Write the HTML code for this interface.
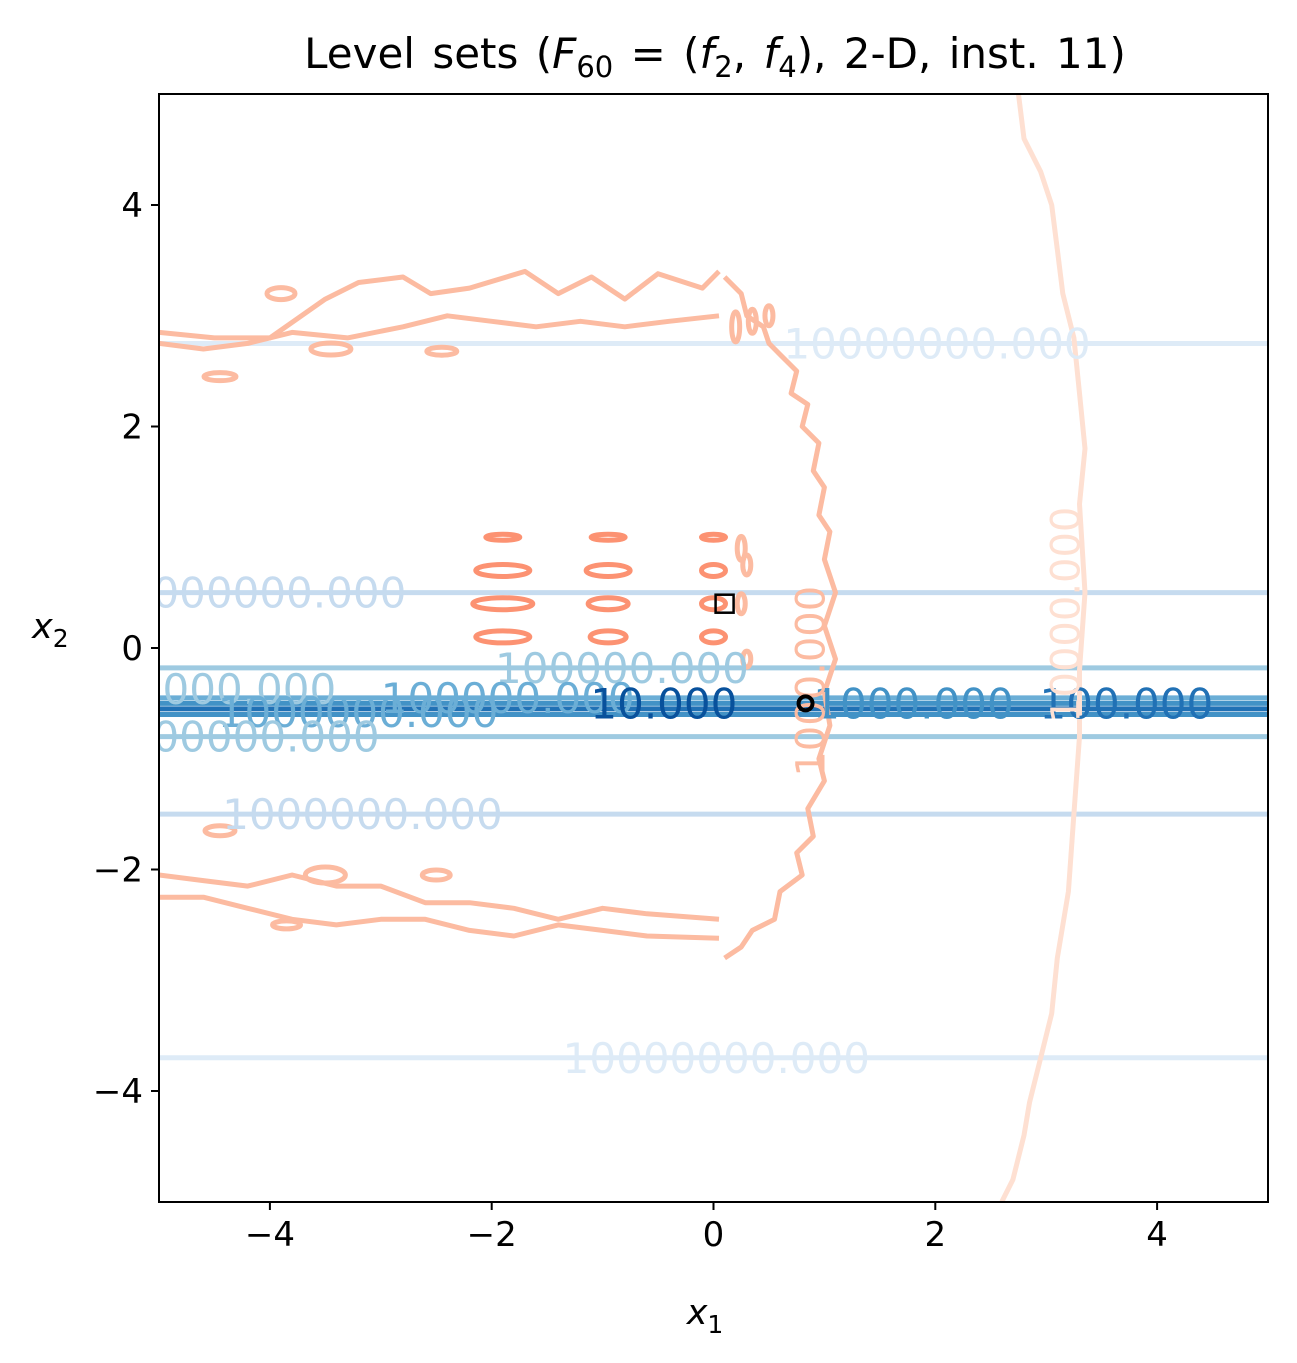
<!DOCTYPE html>
<html><head><meta charset="utf-8"><style>
body{margin:0;background:#fff;}
svg{display:block;font-family:"DejaVu Sans","Liberation Sans",sans-serif;}
</style></head><body>
<svg id="c" width="1297" height="1363" viewBox="0 0 1297 1363">
<rect width="1297" height="1363" fill="#fff"/>
<g id="plot"></g>
<rect x="159" y="94" width="1109" height="1108" fill="none" stroke="#000" stroke-width="2"/>
<g id="ticks"></g>
<text x="715" y="68" font-size="42" text-anchor="middle" word-spacing="4">Level sets (<tspan font-style="italic">F</tspan><tspan font-size="29" dy="9">60</tspan><tspan dy="-9"> = (</tspan><tspan font-style="italic">f</tspan><tspan font-size="29" dy="9">2</tspan><tspan dy="-9">, </tspan><tspan font-style="italic">f</tspan><tspan font-size="29" dy="9">4</tspan><tspan dy="-9">), 2-D, inst. 11)</tspan></text>
<text x="705" y="1324" font-size="35" font-style="italic" text-anchor="middle">x<tspan font-size="25" dy="9" font-style="normal">1</tspan></text>
<text x="32" y="638" font-size="35" font-style="italic">x<tspan font-size="25" dy="9" font-style="normal">2</tspan></text>
</svg>
<script>
const xTicks=[-4,-2,0,2,4];
const yTicks=[-4,-2,0,2,4];
const blueLevels=[2.75,0.5,-0.18,-0.45,-0.5,-0.55,-0.6,-0.8,-1.5,-3.7];
const blueShades=["#deebf7","#c6dbef","#9ecae1","#6baed6","#4292c6","#2171b5","#4292c6","#9ecae1","#c6dbef","#deebf7"];
const blueLabels=[["10000000.000",0.63,2.75],["1000000.000",-5.3,0.5],["100000.000",-1.97,-0.18],["10000.000",-5.45,-0.37],["100000.000",-3.0,-0.45],["1000000.000",-4.47,-0.58],["100000.000",-5.3,-0.8],["1000000.000",-4.43,-1.5],["10000000.000",-1.36,-3.7],["10.000",-1.11,-0.5],["1000.000",0.9,-0.5],["100.000",2.94,-0.5]];
const labelShades=["#deebf7","#c6dbef","#9ecae1","#9ecae1","#6baed6","#6baed6","#9ecae1","#c6dbef","#deebf7","#08519c","#4292c6","#2171b5"];
const ellipseX=[-1.9,-0.95,0.0];
const ellipseY=[1.0,0.7,0.4,0.1];
const upperTop=[[-5,2.85],[-4.5,2.8],[-4,2.8],[-3.5,3.15],[-3.2,3.3],[-2.8,3.35],[-2.55,3.2],[-2.2,3.25],[-1.7,3.4],[-1.4,3.2],[-1.1,3.35],[-0.8,3.15],[-0.5,3.38],[-0.1,3.25],[0.05,3.4]];
const upperBot=[[-5,2.75],[-4.6,2.7],[-4.2,2.75],[-3.8,2.85],[-3.3,2.8],[-2.8,2.9],[-2.4,3.0],[-2.0,2.95],[-1.6,2.9],[-1.2,2.95],[-0.8,2.9],[-0.4,2.95],[0.05,3.0]];
const lowerTop=[[-5,-2.05],[-4.6,-2.1],[-4.2,-2.15],[-3.8,-2.05],[-3.4,-2.15],[-3.0,-2.15],[-2.6,-2.3],[-2.2,-2.3],[-1.8,-2.35],[-1.4,-2.45],[-1.0,-2.35],[-0.6,-2.4],[0.05,-2.45]];
const lowerBot=[[-5,-2.25],[-4.6,-2.25],[-4.2,-2.35],[-3.8,-2.45],[-3.4,-2.5],[-3.0,-2.45],[-2.6,-2.45],[-2.2,-2.55],[-1.8,-2.6],[-1.4,-2.5],[-1.0,-2.55],[-0.6,-2.6],[0.05,-2.62]];
const rightArc=[[0.1,3.35],[0.25,3.2],[0.3,3.0],[0.45,2.9],[0.5,2.75],[0.6,2.65],[0.75,2.5],[0.7,2.3],[0.85,2.2],[0.8,2.0],[0.95,1.85],[0.9,1.6],[1.0,1.45],[0.95,1.2],[1.05,1.05],[1.0,0.8],[1.1,0.5],[1.0,0.2],[1.1,-0.1],[1.0,-0.4],[1.05,-0.7],[0.95,-1.0],[1.0,-1.2],[0.85,-1.45],[0.9,-1.7],[0.75,-1.85],[0.8,-2.05],[0.6,-2.2],[0.55,-2.45],[0.35,-2.55],[0.25,-2.7],[0.1,-2.8]];
const farRight=[[2.75,5],[2.8,4.6],[2.95,4.3],[3.05,4.0],[3.1,3.6],[3.15,3.2],[3.25,2.8],[3.3,2.3],[3.35,1.8],[3.3,1.3],[3.35,0.5],[3.3,-0.2],[3.3,-0.8],[3.25,-1.5],[3.2,-2.2],[3.1,-2.8],[3.05,-3.3],[2.95,-3.7],[2.85,-4.1],[2.8,-4.4],[2.7,-4.8],[2.6,-5]];
const smallLoops=[[-3.9,3.2,14,6],[-4.45,2.45,16,4],[-2.45,2.68,15,4],[-3.45,2.7,20,6],[-4.45,-1.65,15,5],[-3.5,-2.05,20,8],[-2.5,-2.05,14,5],[-3.85,-2.5,14,4],[0.25,0.9,4,12],[0.3,0.75,4,10],[0.25,0.4,4,10],[0.3,-0.1,4,8],[0.2,2.9,4,15],[0.35,2.95,4,12],[0.5,3.0,4,10]];

const X=v=>713.5+v*110.9, Y=v=>648-v*110.75;
const NS="http://www.w3.org/2000/svg";
const plot=document.getElementById('plot'), tk=document.getElementById('ticks');
function mk(t,a,p){const e=document.createElementNS(NS,t);for(const k in a)e.setAttribute(k,a[k]);(p||plot).appendChild(e);return e;}
const cp=mk('clipPath',{id:'cl'});mk('rect',{x:159,y:94,width:1109,height:1108},cp);
plot.setAttribute('clip-path','url(#cl)');
blueLevels.forEach((v,i)=>{const l=mk('line',{x1:159,x2:1268,y1:Y(v),y2:Y(v),stroke:blueShades[i],'stroke-width':5});

});
function path(pts,col,w,name){const d=pts.map((p,i)=>(i?'L':'M')+X(p[0]).toFixed(1)+','+Y(p[1]).toFixed(1)).join('');
const e=mk('path',{d:d,fill:'none',stroke:col,'stroke-width':w,'stroke-linejoin':'round'});

}
path(upperTop,'#fcbba1',5,'red-contour-upper');
path(upperBot,'#fcbba1',5,'red-contour-upper');
path(lowerTop,'#fcbba1',5,'red-contour-lower');
path(lowerBot,'#fcbba1',5,'red-contour-lower');
path(rightArc,'#fcbba1',5,'red-contour-arc');
path(farRight,'#fee0d2',5,'red-contour-far');
smallLoops.forEach(s=>{const e=mk('ellipse',{cx:X(s[0]),cy:Y(s[1]),rx:s[2],ry:s[3],fill:'none',stroke:'#fcbba1','stroke-width':5});

});
const exRx=[[17,27,30,27],[17,22,20,18],[12,12,12,12]];
ellipseX.forEach((cx,i)=>ellipseY.forEach((cy,j)=>{const e=mk('ellipse',{cx:X(cx),cy:Y(cy),rx:exRx[i][j],ry:j==0?3:6,fill:'none',stroke:'#fc9272','stroke-width':5});

}));
blueLabels.forEach((b,i)=>{const t=mk('text',{x:X(b[1]),y:Y(b[2])+15,'font-size':42,fill:labelShades[i]});t.textContent=b[0];

});
[["10000.000",3.3,0.3,'#fee0d2'],["1000.000",1.0,-0.3,'#fcbba1']].forEach(r=>{const t=mk('text',{x:X(r[1]),y:Y(r[2]),'font-size':40,fill:r[3],'text-anchor':'middle',transform:`rotate(-90 ${X(r[1])} ${Y(r[2])})`});t.textContent=r[0];

});
const m=mk('rect',{x:X(0.1)-9,y:Y(0.4)-9,width:18,height:18,fill:'none',stroke:'#000','stroke-width':2.5});


const c=mk('circle',{cx:X(0.83),cy:Y(-0.5),r:7,fill:'none',stroke:'#000','stroke-width':4});


xTicks.forEach(v=>{mk('line',{x1:X(v),x2:X(v),y1:1202,y2:1210,stroke:'#000','stroke-width':2},tk);
const t=mk('text',{x:X(v),y:1246,'font-size':34,'text-anchor':'middle'},tk);t.textContent=(v<0?'\u2212':'')+Math.abs(v);

});
yTicks.forEach(v=>{mk('line',{x1:151,x2:159,y1:Y(v),y2:Y(v),stroke:'#000','stroke-width':2},tk);
const t=mk('text',{x:143,y:Y(v)+12,'font-size':34,'text-anchor':'end'},tk);t.textContent=(v<0?'\u2212':'')+Math.abs(v);

});
</script>
</body></html>
